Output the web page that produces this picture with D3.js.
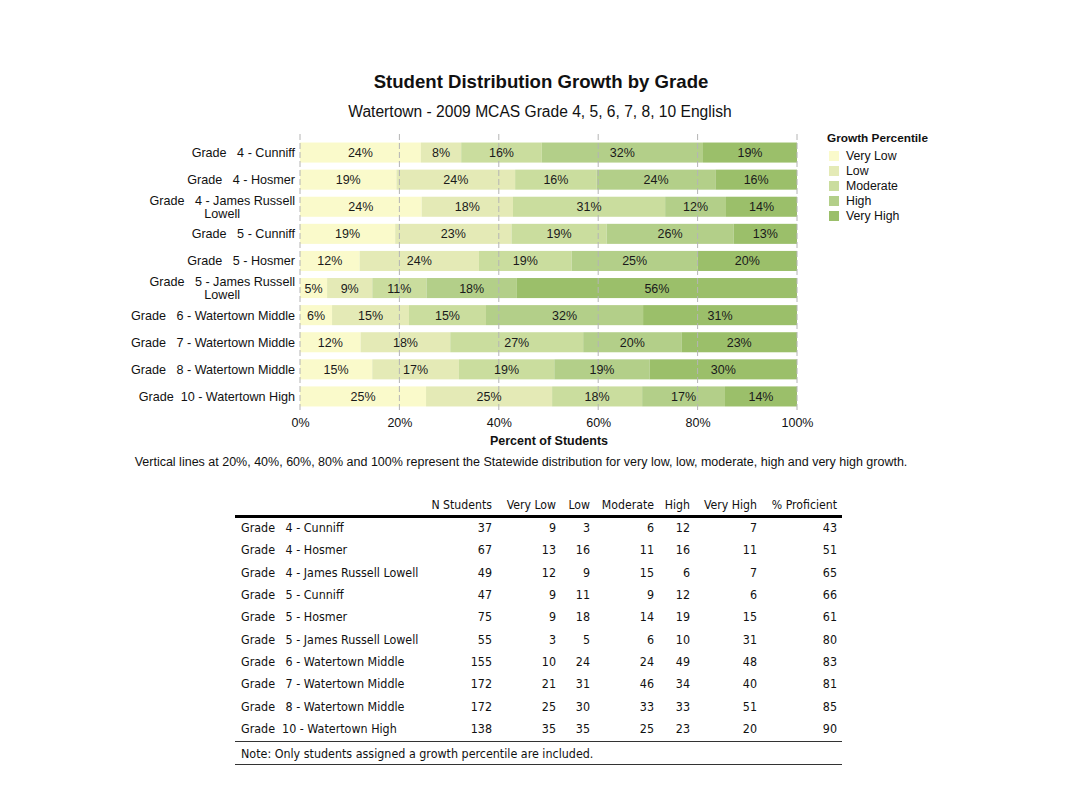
<!DOCTYPE html>
<html>
<head>
<meta charset="utf-8">
<script src="https://cdn.jsdelivr.net/npm/d3@7"></script>
<style>
  body { margin: 0; background: #fff; }
  svg text { font-family: "Liberation Sans", Arial, sans-serif; white-space: pre; }
  .tbl text { font-family: "DejaVu Sans Condensed", "DejaVu Sans", sans-serif; }
</style>
</head>
<body>
<div id="chart"></div>
<script>
// rows (chart labels are wrapped, table labels are on one line)
const schools = [
	["Grade   4 - Cunniff"],
	["Grade   4 - Hosmer"],
	["Grade   4 - James Russell", "Lowell"],
	["Grade   5 - Cunniff"],
	["Grade   5 - Hosmer"],
	["Grade   5 - James Russell", "Lowell"],
	["Grade   6 - Watertown Middle"],
	["Grade   7 - Watertown Middle"],
	["Grade   8 - Watertown Middle"],
	["Grade  10 - Watertown High"],
]
const growthLevels = ["Very Low", "Low", "Moderate", "High", "Very High"]

// student counts per growth level
const veryLow = [9, 13, 12, 9, 9, 3, 10, 21, 25, 35]
const low = [3, 16, 9, 11, 18, 5, 24, 31, 30, 35]
const moderate = [6, 11, 15, 9, 14, 6, 24, 46, 33, 25]
const high = [12, 16, 6, 12, 19, 10, 49, 34, 33, 23]
const veryHigh = [7, 11, 7, 6, 15, 31, 48, 40, 51, 20]
const nStudents = [37, 67, 49, 47, 75, 55, 155, 172, 172, 138]
const pctProficient = [43, 51, 65, 66, 61, 80, 83, 81, 85, 90]

const tickValues = [0, 0.2, 0.4, 0.6, 0.8, 1]
const colors = ["#fafacb", "#e4eab6", "#cadd9e", "#b3cf89", "#9bbf6a"]

const width = 1066
const height = 800

const svg = d3.select("#chart")
	.append("svg")
	.attr("width", width)
	.attr("height", height)

// titles
svg.append("text")
	.attr("x", 541).attr("y", 88)
	.attr("text-anchor", "middle")
	.attr("font-size", "18.6px")
	.attr("font-weight", "bold")
	.attr("fill", "#111")
	.text("Student Distribution Growth by Grade")

svg.append("text")
	.attr("x", 540).attr("y", 117)
	.attr("text-anchor", "middle")
	.attr("font-size", "15.6px")
	.attr("fill", "#111")
	.text("Watertown - 2009 MCAS Grade 4, 5, 6, 7, 8, 10 English")

// build table for stacking
const rows = schools.map((s, i) => ({
	key: i,
	"Very Low": veryLow[i],
	"Low": low[i],
	"Moderate": moderate[i],
	"High": high[i],
	"Very High": veryHigh[i],
}))

const stack = d3.stack().keys(growthLevels).offset(d3.stackOffsetExpand)
const series = stack(rows)

const x = d3.scaleLinear().domain([0, 1]).range([300, 797])
const y = d3.scaleBand()
	.domain(d3.range(schools.length))
	.range([139, 410])
	.paddingInner(0.26)
	.paddingOuter(0.13)
const color = d3.scaleOrdinal().domain(growthLevels).range(colors)

const bars = svg.append("g").attr("class", "bars")

series.forEach(s => {
	const g = bars.append("g").attr("fill", color(s.key))
	g.selectAll("rect")
		.data(s)
		.enter()
		.append("rect")
		.attr("x", d => x(d[0]))
		.attr("y", (d, i) => y(i))
		.attr("width", d => x(d[1]) - x(d[0]))
		.attr("height", y.bandwidth())
})

// statewide reference lines
svg.append("g")
	.selectAll("line")
	.data(tickValues)
	.enter()
	.append("line")
	.attr("x1", d => x(d))
	.attr("x2", d => x(d))
	.attr("y1", 134)
	.attr("y2", 410)
	.attr("stroke", "#b4b4b4")
	.attr("stroke-width", 1)
	.attr("stroke-dasharray", "6,3")

// segment labels
series.forEach(s => {
	svg.append("g")
		.selectAll("text")
		.data(s)
		.enter()
		.append("text")
		.attr("x", d => (x(d[0]) + x(d[1])) / 2)
		.attr("y", (d, i) => y(i) + y.bandwidth() / 2 + 4.5)
		.attr("text-anchor", "middle")
		.attr("font-size", "12.5px")
		.attr("fill", "#1a1a1a")
		.text(d => Math.round((d[1] - d[0]) * 100) + "%")
})

// category labels, wrapped lines centred as a block
const labelRight = 295
schools.forEach((lines, i) => {
	const cy = y(i) + y.bandwidth() / 2
	const g = svg.append("g")
	const texts = lines.map((t, j) => g.append("text")
		.attr("y", cy + 4.5 + (j - (lines.length - 1) / 2) * 13.5)
		.attr("font-size", "12.6px")
		.attr("fill", "#111")
		.text(t))
	if (lines.length === 1) {
		texts[0].attr("x", labelRight).attr("text-anchor", "end")
	} else {
		const w = d3.max(texts, t => t.node().getComputedTextLength())
		texts.forEach(t => t.attr("x", labelRight - w / 2).attr("text-anchor", "middle"))
	}
})

// x axis
const xAxis = d3.axisBottom(x)
	.tickValues(tickValues)
	.tickFormat(d3.format(".0%"))
	.tickSize(0)
	.tickPadding(0)

const axisG = svg.append("g")
	.attr("transform", "translate(0,418)")
	.call(xAxis)
axisG.select(".domain").remove()
axisG.selectAll("text")
	.attr("font-family", "Liberation Sans, Arial, sans-serif")
	.attr("font-size", "12.5px")
	.attr("fill", "#111")

svg.append("text")
	.attr("x", 549).attr("y", 445)
	.attr("text-anchor", "middle")
	.attr("font-size", "12.5px")
	.attr("font-weight", "bold")
	.attr("fill", "#111")
	.text("Percent of Students")

svg.append("text")
	.attr("x", 521).attr("y", 466)
	.attr("text-anchor", "middle")
	.attr("font-size", "12.5px")
	.attr("fill", "#111")
	.text("Vertical lines at 20%, 40%, 60%, 80% and 100% represent the Statewide distribution for very low, low, moderate, high and very high growth.")

// legend
const legend = svg.append("g").attr("transform", "translate(827,0)")
legend.append("text")
	.attr("x", 0).attr("y", 142)
	.attr("font-size", "11.8px")
	.attr("font-weight", "bold")
	.attr("fill", "#111")
	.text("Growth Percentile")

growthLevels.forEach((lvl, i) => {
	legend.append("rect")
		.attr("x", 2).attr("y", 151 + i * 15)
		.attr("width", 10).attr("height", 10)
		.attr("fill", color(lvl))
	legend.append("text")
		.attr("x", 19).attr("y", 160 + i * 15)
		.attr("font-size", "12.3px")
		.attr("fill", "#111")
		.text(lvl)
})

// data table
const tbl = svg.append("g").attr("class", "tbl")
const tableLabels = schools.map(l => l.join(" "))
const columns = ["N Students", "Very Low", "Low", "Moderate", "High", "Very High", "% Proficient"]
const columnRight = [492, 556, 590, 654, 690, 757, 837]
const columnValues = [nStudents, veryLow, low, moderate, high, veryHigh, pctProficient]

const rowY = d3.scalePoint()
	.domain(d3.range(schools.length))
	.range([532, 733])

columns.forEach((c, j) => {
	tbl.append("text")
		.attr("x", columnRight[j]).attr("y", 509)
		.attr("text-anchor", "end")
		.attr("font-size", "12.2px")
		.attr("fill", "#111")
		.text(c)
})

tbl.append("line")
	.attr("x1", 235).attr("x2", 842)
	.attr("y1", 516.5).attr("y2", 516.5)
	.attr("stroke", "#000").attr("stroke-width", 3)

tbl.selectAll(".rowlabel")
	.data(tableLabels)
	.enter()
	.append("text")
	.attr("class", "rowlabel")
	.attr("x", 241)
	.attr("y", (d, i) => rowY(i))
	.attr("font-size", "12.4px")
	.attr("fill", "#111")
	.text(d => d)

columnValues.forEach((vals, j) => {
	tbl.append("g")
		.selectAll("text")
		.data(vals)
		.enter()
		.append("text")
		.attr("x", columnRight[j])
		.attr("y", (d, i) => rowY(i))
		.attr("text-anchor", "end")
		.attr("font-size", "12.4px")
		.attr("fill", "#111")
		.text(d => d)
})

tbl.append("line")
	.attr("x1", 235).attr("x2", 842)
	.attr("y1", 741.5).attr("y2", 741.5)
	.attr("stroke", "#333").attr("stroke-width", 1)

tbl.append("text")
	.attr("x", 241).attr("y", 757.5)
	.attr("font-size", "12.4px")
	.attr("fill", "#111")
	.text("Note: Only students assigned a growth percentile are included.")

tbl.append("line")
	.attr("x1", 235).attr("x2", 842)
	.attr("y1", 764.5).attr("y2", 764.5)
	.attr("stroke", "#333").attr("stroke-width", 1)
</script>
</body>
</html>
